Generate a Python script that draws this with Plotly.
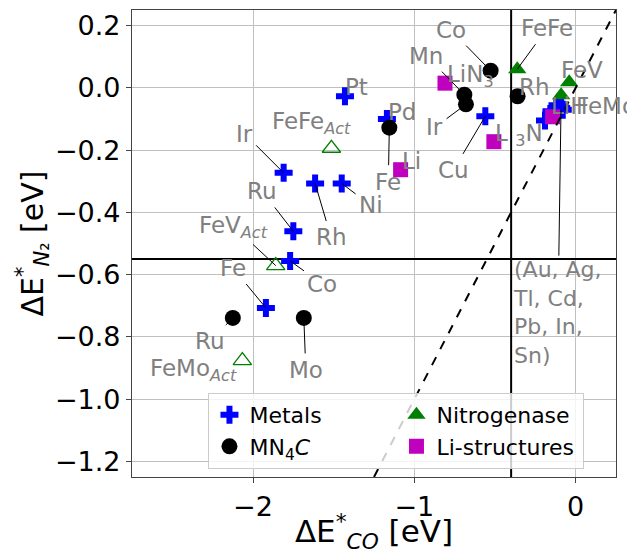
import plotly.graph_objects as go

# ---------------- data ----------------
metal_names = ["Pt", "Pd", "Ir", "Rh", "Ni", "Ru", "Co", "Fe", "Cu"]
metal_x = [-1.43, -1.17, -1.81, -1.615, -1.45, -1.75, -1.77, -1.92, -0.56]
metal_y = [-0.027, -0.10, -0.273, -0.307, -0.307, -0.461, -0.556, -0.707, -0.091]

cluster_names = ["Au", "Ag", "Tl", "Cd", "Pb", "In", "Sn"]
cluster_x = [-0.19, -0.15, -0.12, -0.10, -0.08, -0.09, -0.11]
cluster_y = [-0.105, -0.075, -0.065, -0.06, -0.07, -0.065, -0.07]

mn4c_names = ["Co", "Mn", "Ir", "Rh", "Fe", "Ru", "Mo"]
mn4c_x = [-0.527, -0.69, -0.68, -0.36, -1.155, -2.125, -1.685]
mn4c_y = [0.055, -0.022, -0.053, -0.027, -0.128, -0.739, -0.739]

nit_names = ["FeFe", "FeV", "FeMo"]
nit_x = [-0.362, -0.04, -0.09]
nit_y = [0.06, 0.018, -0.024]

act_names = ["FeFe<sub><i>Act</i></sub>", "FeV<sub><i>Act</i></sub>", "FeMo<sub><i>Act</i></sub>"]
act_x = [-1.514, -1.859, -2.066]
act_y = [-0.194, -0.571, -0.876]

li_names = ["LiN<sub>3</sub>", "Li", "L <sub>3</sub>N", "LiH"]
li_x = [-0.81, -1.085, -0.507, -0.143]
li_y = [0.015, -0.263, -0.173, -0.093]

x_ticks = [-2, -1, 0]
x_ticklabels = ["\u22122", "\u22121", "0"]
y_ticks = [0.2, 0.0, -0.2, -0.4, -0.6, -0.8, -1.0, -1.2]
y_ticklabels = ["0.2", "0.0", "\u22120.2", "\u22120.4", "\u22120.6", "\u22120.8", "\u22121.0", "\u22121.2"]

co_limit = -0.4
n2_limit = -0.55

# ---------------- label placement (pixel offsets, arrow flag) ----------------
metal_off = [(12, -9, False), (15, -7, False), (-39, -39, True), (16, 54, True), (29, 22, True),
             (-31, -40, True), (32, 23, True), (-33, -40, True), (-32, 54, True)]
mn4c_off = [(-40, -41, True), (-38, -39, True), (-31, 23, True), (17, -9, False), (-1, 54, True),
            (-23, 23, True), (2, 52, True)]
nit_off = [(30, -41, True), (13, -12, False), (45, 11, False)]
act_off = [(-20, -25, False), (-42, -39, True), (-49, 9, False)]
li_off = [(26, -7, False), (11, -9, False), (25, -7, False), (17, -11, False)]

FONT = "DejaVu Sans"
GRAY = "#808080"

fig = go.Figure()

# reference lines (under markers)
fig.add_trace(go.Scatter(x=[co_limit, co_limit], y=[-1.25, 0.25], mode="lines",
                         line=dict(color="black", width=2), showlegend=False, hoverinfo="skip"))
fig.add_trace(go.Scatter(x=[-2.75, 0.25], y=[n2_limit, n2_limit], mode="lines",
                         line=dict(color="black", width=2), showlegend=False, hoverinfo="skip"))

fig.add_trace(go.Scatter(x=metal_x + cluster_x, y=metal_y + cluster_y, mode="markers", name="Metals",
                         marker=dict(symbol="cross", size=15, color="#0000ff"), legendrank=1))
fig.add_trace(go.Scatter(x=mn4c_x, y=mn4c_y, mode="markers", name="MN<sub>4</sub><i>C</i>",
                         marker=dict(symbol="circle", size=16, color="black"), legendrank=3))
fig.add_trace(go.Scatter(x=nit_x, y=nit_y, mode="markers", name="Nitrogenase",
                         marker=dict(symbol="triangle-up", size=16, color="#008000"), legendrank=2))
fig.add_trace(go.Scatter(x=act_x, y=act_y, mode="markers", showlegend=False,
                         marker=dict(symbol="triangle-up-open", size=16, color="#008000",
                                     line=dict(width=1.3))))
fig.add_trace(go.Scatter(x=li_x, y=li_y, mode="markers", name="Li-structures",
                         marker=dict(symbol="square", size=15, color="#bf00bf"), legendrank=4))

# y = x dashed line
fig.add_trace(go.Scatter(x=[-1.25, 0.25], y=[-1.25, 0.25], mode="lines",
                         line=dict(color="black", width=2, dash="dash"), showlegend=False,
                         hoverinfo="skip"))

annotations = []


def add_labels(names, xs, ys, offs):
    for n, x, y, (dx, dy, arrow) in zip(names, xs, ys, offs):
        if arrow:
            annotations.append(dict(x=x, y=y, text=n, showarrow=True, ax=dx, ay=dy,
                                    arrowhead=0, arrowwidth=1, arrowcolor="black",
                                    standoff=0, startstandoff=2,
                                    font=dict(family=FONT, size=23, color=GRAY)))
        else:
            annotations.append(dict(x=x, y=y, text=n, showarrow=False, xshift=dx, yshift=-dy,
                                    font=dict(family=FONT, size=23, color=GRAY)))


add_labels(metal_names, metal_x, metal_y, metal_off)
add_labels(mn4c_names, mn4c_x, mn4c_y, mn4c_off)
add_labels(nit_names, nit_x, nit_y, nit_off)
add_labels(act_names, act_x, act_y, act_off)
add_labels(li_names, li_x, li_y, li_off)

cluster_text = "(" + ", ".join(cluster_names[0:2]) + ",<br>" + ", ".join(cluster_names[2:4]) + \
    ",<br>" + ", ".join(cluster_names[4:6]) + ",<br>" + cluster_names[6] + ")"
annotations.append(dict(x=-0.091, y=-0.07, text=cluster_text, showarrow=True, ax=-3, ay=203,
                        arrowhead=0, arrowwidth=1, arrowcolor="black", standoff=0,
                        align="left", font=dict(family=FONT, size=22, color=GRAY)))

# page body has an 8px margin, so the figure is sized to fill the remaining window
fig.update_layout(
    width=627, height=546,
    margin=dict(l=124, r=19, t=1, b=74),
    paper_bgcolor="white", plot_bgcolor="white",
    font=dict(family=FONT, color="black"),
    annotations=annotations,
    showlegend=True,
    legend=dict(orientation="h", x=0.158, y=0.18, xanchor="left", yanchor="top",
                entrywidth=142, bgcolor="rgba(255,255,255,0.8)", bordercolor="#cccccc",
                borderwidth=1, font=dict(family=FONT, size=22, color="black")),
    xaxis=dict(range=[-2.75, 0.25], tickvals=x_ticks, ticktext=x_ticklabels,
               showgrid=True, gridcolor="#c0c0c0", gridwidth=1, zeroline=False,
               showline=True, mirror=True, linecolor="#444444", linewidth=1.3,
               ticks="outside", ticklen=5, tickcolor="#444444",
               tickfont=dict(family=FONT, size=27, color="black"),
               title=dict(text="\u0394E<sup>*</sup><sub><i>CO</i></sub> [eV]",
                          font=dict(family=FONT, size=31, color="black"), standoff=10)),
    yaxis=dict(range=[-1.25, 0.25], tickvals=y_ticks, ticktext=y_ticklabels,
               showgrid=True, gridcolor="#c0c0c0", gridwidth=1, zeroline=False,
               showline=True, mirror=True, linecolor="#444444", linewidth=1.3,
               ticks="outside", ticklen=5, tickcolor="#444444",
               tickfont=dict(family=FONT, size=27, color="black"),
               title=dict(text="\u0394E<sup>*</sup><sub><i>N</i>\u2082</sub> [eV]",
                          font=dict(family=FONT, size=30, color="black"), standoff=2)),
)

fig.write_html("out.html")
